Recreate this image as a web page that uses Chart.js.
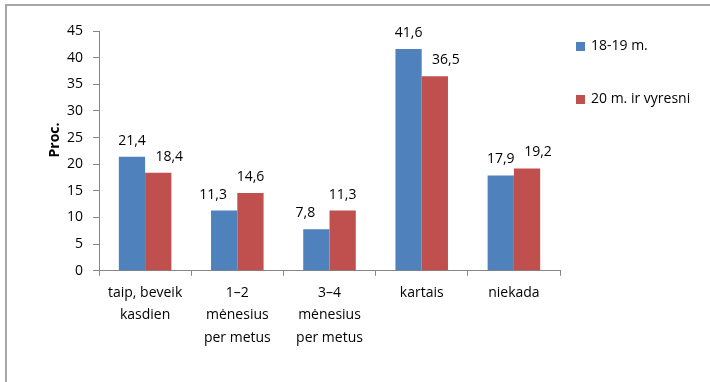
<!DOCTYPE html>
<html>
<head>
<meta charset="utf-8">
<script src="https://cdn.jsdelivr.net/npm/chart.js@4"></script>
<style>
    body { margin: 0; background: #fff; }
    #remelis {
        position: absolute; left: 5px; top: 4px; width: 720px; height: 400px;
        border-left: 2px solid #a6a6a6; border-top: 2px solid #a6a6a6;
    }
    #dezute { position: absolute; left: 0; top: 0; width: 710px; height: 382px; }
</style>
</head>
<body>
<div id="remelis"></div>
<div id="dezute"><canvas id="grafikasDaznis"></canvas></div>
<script>
// ---- duomenys

const kategorijos = [
    ['taip, beveik', 'kasdien'],
    ['1–2', 'mėnesius', 'per metus'],
    ['3–4', 'mėnesius', 'per metus'],
    'kartais',
    'niekada'
];
const grupe1819 = [21.4, 11.3, 7.8, 41.6, 17.9];
const grupe20 = [18.4, 14.6, 11.3, 36.5, 19.2];
const seriju_pavadinimai = ['18-19 m.', '20 m. ir vyresni'];
const asiesPavadinimas = 'Proc.';
const spalvos = ['#4f81bd', '#c0504d'];

const sriftas = '"Open Sans", "Liberation Sans", sans-serif';

// ---- reiksmes virs stulpeliu (kablelis vietoj tasko)
const reiksmiuPlugin = {
    id: 'reiksmes',
    afterDatasetsDraw(chart) {
        const ctx = chart.ctx;
        ctx.save();
        ctx.font = '14px ' + sriftas;
        ctx.fillStyle = '#000';
        ctx.textAlign = 'center';
        ctx.textBaseline = 'bottom';
        chart.data.datasets.forEach((ds, i) => {
            const meta = chart.getDatasetMeta(i);
            meta.data.forEach((bar, j) => {
                let x = bar.x;
                // kad uzrasai neuzliptu vienas ant kito
                if (i === 0 && grupe20[j] - grupe1819[j] > 2) x -= 11;
                if (i === 1 && grupe20[j] - grupe1819[j] < 2) x += 11;
                ctx.fillText(ds.data[j].toFixed(1).replace('.', ','), x, bar.y - 9);
            });
        });
        ctx.restore();
    }
};

// ---- legenda desineje ir Y asies pavadinimas
const legendosPlugin = {
    id: 'legendaDesine',
    afterDraw(chart) {
        const ctx = chart.ctx;
        const x0 = chart.chartArea.right + 16;
        ctx.save();
        ctx.font = '14px ' + sriftas;
        ctx.textBaseline = 'middle';
        ctx.textAlign = 'left';
        seriju_pavadinimai.forEach((pav, i) => {
            const y = 46 + i * 53;
            ctx.fillStyle = spalvos[i];
            ctx.fillRect(x0, y - 4, 9, 9);
            ctx.fillStyle = '#000';
            ctx.fillText(pav, x0 + 15, y);
        });

        // pasuktas "Proc." kaireje
        ctx.translate(55, 140);
        ctx.rotate(-Math.PI / 2);
        ctx.font = 'bold 14px ' + sriftas;
        ctx.textAlign = 'center';
        ctx.textBaseline = 'middle';
        ctx.fillText(asiesPavadinimas, 0, 0);
        ctx.restore();
    }
};

const ctxG = document.getElementById('grafikasDaznis').getContext('2d');

let grafikasDaznis = new Chart(ctxG, {
    type: 'bar',
    data: {
        labels: kategorijos,
        datasets: [{
            label: seriju_pavadinimai[0],
            data: grupe1819,
            backgroundColor: spalvos[0],
            categoryPercentage: 0.57,
            barPercentage: 1
        }, {
            label: seriju_pavadinimai[1],
            data: grupe20,
            backgroundColor: spalvos[1],
            categoryPercentage: 0.57,
            barPercentage: 1
        }]
    },
    options: {
        responsive: true,
        maintainAspectRatio: false,
        animation: false,
        layout: {
            padding: { left: 57, right: 150, top: 31, bottom: 27 }
        },
        plugins: {
            legend: { display: false },
            tooltip: { enabled: false }
        },
        scales: {
            x: {
                grid: {
                    display: true,
                    drawOnChartArea: false,
                    drawTicks: true,
                    tickLength: 5,
                    color: '#868686'
                },
                border: { color: '#868686', width: 1 },
                ticks: {
                    color: '#000',
                    font: { family: sriftas, size: 14, lineHeight: 1.6 },
                    padding: 6,
                    maxRotation: 0
                }
            },
            y: {
                min: 0,
                max: 45,
                grid: {
                    drawOnChartArea: false,
                    tickLength: 6,
                    color: '#868686'
                },
                border: { color: '#868686', width: 1 },
                ticks: {
                    stepSize: 5,
                    color: '#000',
                    padding: 10,
                    font: { family: sriftas, size: 14 }
                }
            }
        }
    },
    plugins: [reiksmiuPlugin, legendosPlugin]
});
</script>
</body>
</html>
